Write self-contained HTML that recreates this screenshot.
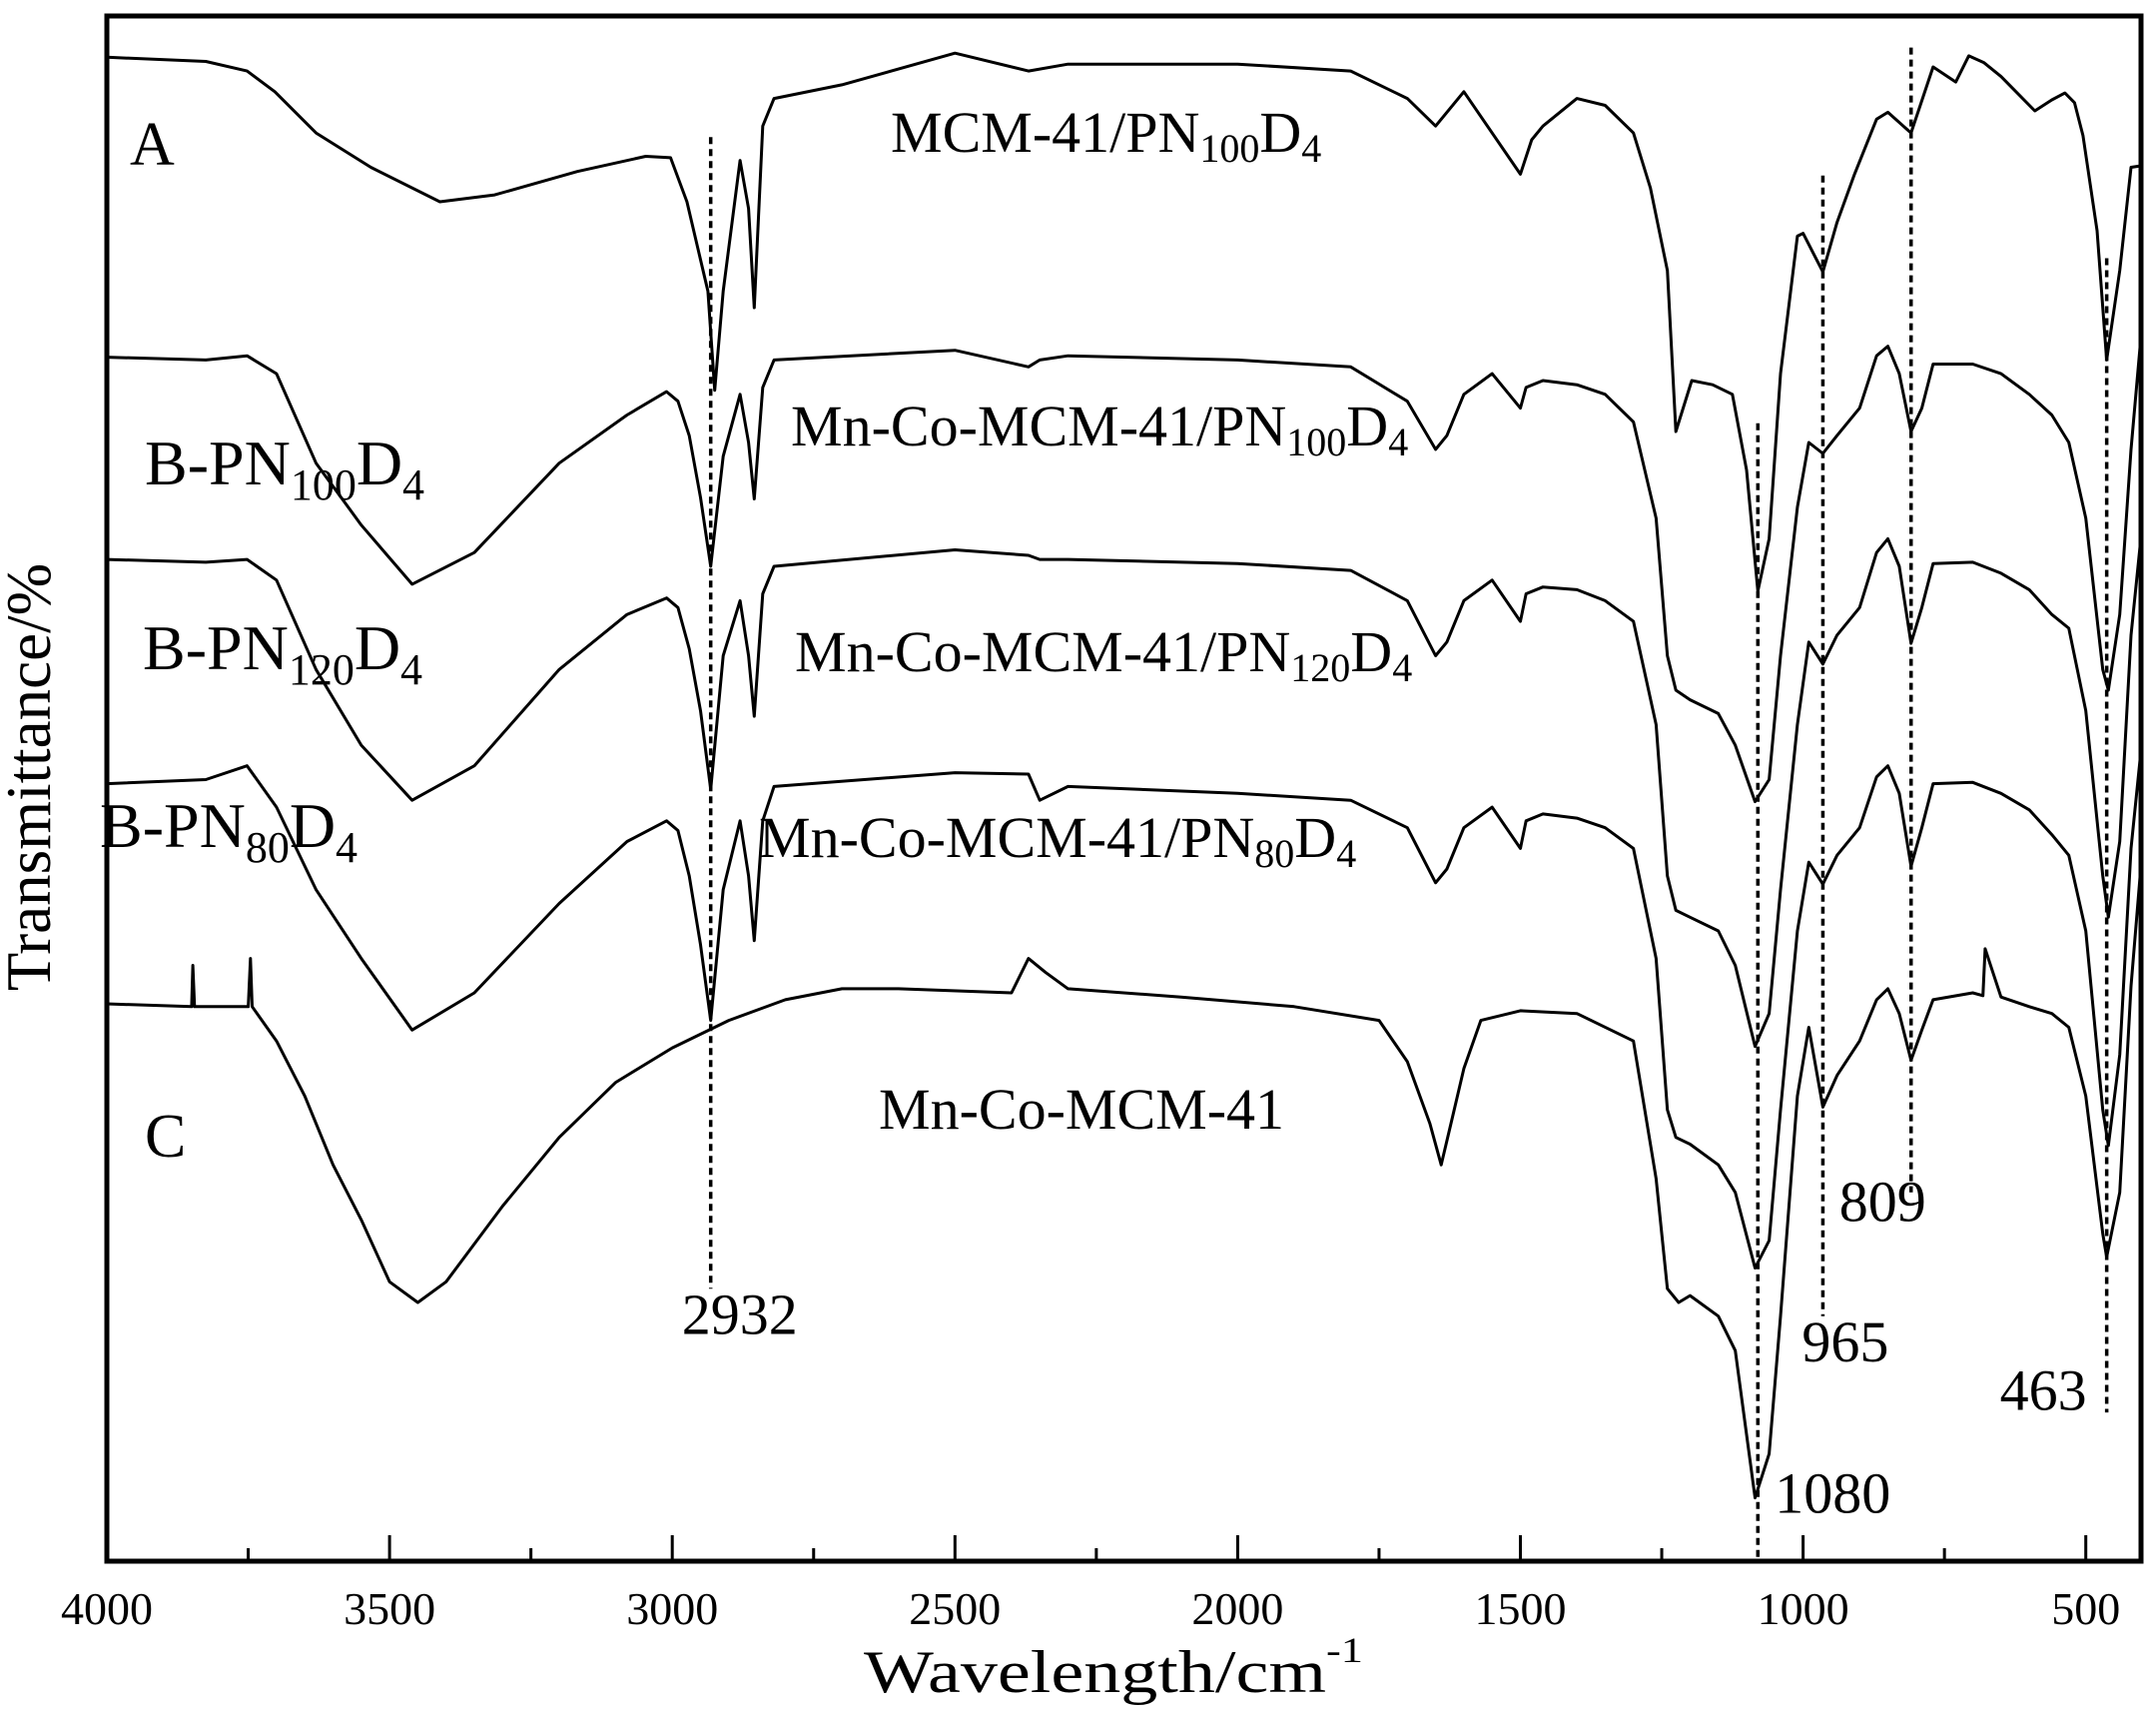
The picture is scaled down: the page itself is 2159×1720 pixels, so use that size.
<!DOCTYPE html>
<html><head><meta charset="utf-8"><style>
html,body{margin:0;padding:0;background:#fff}
svg{display:block}
text{font-family:"Liberation Serif",serif;fill:#000}
</style></head>
<body>
<svg id="chart" width="2159" height="1720" viewBox="0 0 2159 1720" xmlns="http://www.w3.org/2000/svg">
<g id="plot"></g>
</svg>
<script>
// wavenumbers (cm-1) and offsets below top of plot (arbitrary units, 0 = top, 1120 = bottom)
const waveA  = [4000,3825,3752,3703,3630,3533,3411,3314,3168,3047,3003,2974,2954,2937,2925,2910,2880,2865,2855,2840,2820,2700,2500,2370,2300,2000,1800,1700,1650,1600,1500,1480,1460,1400,1350,1300,1270,1240,1225,1197,1160,1125,1100,1080,1060,1040,1010,1000,965,940,909,870,850,809,770,730,707,680,650,590,560,537,520,505,480,463,440,420,404];
const dropA  = [30,33,40,55,85,110,135,130,113,102,103,135,170,200,272,200,105,140,212,80,60,50,27,40,35,35,40,60,80,55,115,90,80,60,65,85,125,185,302,265,268,275,330,418,380,260,160,158,186,150,115,75,70,85,37,48,29,34,44,69,61,56,63,87,156,250,185,110,109];
const waveB100 = [4000,3825,3752,3700,3630,3550,3460,3350,3200,3080,3010,2990,2970,2950,2932,2910,2880,2865,2855,2840,2820,2500,2370,2350,2300,2000,1800,1700,1650,1630,1600,1550,1500,1490,1460,1400,1350,1300,1260,1240,1225,1200,1150,1120,1085,1060,1040,1010,990,965,940,900,870,850,830,809,790,770,700,650,600,560,530,500,470,460,440,420,404];
const dropB100 = [248,250,247,260,325,370,413,390,325,290,273,280,305,350,400,320,275,310,351,270,250,243,255,250,247,250,255,280,315,305,275,260,285,270,265,268,275,295,365,465,490,497,507,530,571,555,465,357,310,318,305,285,247,240,260,302,285,253,253,260,275,290,310,365,475,490,435,315,240];
const waveB120 = waveB100;
const dropB120 = [395,397,395,410,475,530,570,545,475,435,423,430,460,505,562,465,425,465,509,420,400,388,392,395,395,398,403,425,465,455,425,410,440,420,415,417,425,440,515,625,650,655,665,690,749,725,635,515,455,471,450,430,390,380,400,456,430,398,397,405,417,435,445,505,625,655,600,450,385];
const waveB80 = waveB100;
const dropB80 = [558,555,545,575,635,685,737,710,645,600,585,592,625,675,730,635,585,625,672,585,560,550,551,570,560,565,570,590,630,620,590,575,605,585,580,583,590,605,685,795,815,820,835,855,910,890,795,665,615,631,610,590,553,545,565,618,590,558,557,565,577,595,610,665,795,821,755,605,540];
const waveC = [4000,3850,3848,3845,3750,3746,3743,3700,3650,3600,3550,3500,3450,3400,3300,3200,3100,3000,2900,2800,2700,2600,2400,2370,2340,2300,2100,1900,1750,1700,1660,1640,1620,1600,1570,1500,1400,1300,1260,1240,1220,1200,1150,1120,1085,1060,1040,1010,990,965,940,900,870,850,830,809,790,770,700,682,678,650,600,560,530,500,470,463,440,420,404];
const dropC = [718,720,690,720,720,685,720,745,785,835,875,920,935,920,865,815,775,750,730,715,707,707,710,685,695,707,713,720,730,760,805,835,800,765,730,723,725,745,845,925,935,930,945,970,1077,1045,945,785,735,793,770,745,715,707,725,759,737,715,710,712,678,713,720,725,735,785,885,902,855,705,625];
const xTicks = [4000,3500,3000,2500,2000,1500,1000,500];
const xMinorTicks = [3750,3250,2750,2250,1750,1250,750];
const peakValues = [2932,1080,965,809,463];

const L=107, R=2144, T=16, B=1563;
const vMax=4000, pxPer500=283.1;
function xs(v){ return L + (vMax - v)/500*pxPer500; }
function ys(d){ return T + d*1.3775; }
const NS='http://www.w3.org/2000/svg';
const g=document.getElementById('plot');
function mk(tag, attrs){ const e=document.createElementNS(NS,tag); for(const k in attrs) e.setAttribute(k,attrs[k]); g.appendChild(e); return e; }

function curve(w, d, name){
  let p='';
  for(let i=0;i<w.length;i++){ p += (i?'L':'M') + xs(w[i]).toFixed(1) + ',' + ys(d[i]).toFixed(1); }
  const e=mk('path',{d:p,fill:'none',stroke:'#000','stroke-width':3,'stroke-linejoin':'round'});
  
  
}
curve(waveA, dropA, 'spectrum-a');
curve(waveB100, dropB100, 'spectrum-b-pn100d4');
curve(waveB120, dropB120, 'spectrum-b-pn120d4');
curve(waveB80, dropB80, 'spectrum-b-pn80d4');
curve(waveC, dropC, 'spectrum-c');

// peak dashed lines [top drop, bottom drop]
const peakTop = [88, 296, 116, 23, 176];
const peakBot = [925, 1120, 945, 855, 1015];
const peakLabelDx = [-29, 17, -21, -72, -107];
const peakLabelDrop = [958, 1088, 978, 876, 1013];
peakValues.forEach((v,i)=>{
  const x = xs(v);
  const ln = mk('line',{x1:x,x2:x,y1:ys(peakTop[i]),y2:ys(peakBot[i]),stroke:'#000','stroke-width':3.5,'stroke-dasharray':'7,5'});
  
  
  const t = mk('text',{x:x+peakLabelDx[i],y:ys(peakLabelDrop[i]),'font-size':58});
  t.textContent = v;
  
  
});

// axes box
const box = mk('rect',{x:L,y:T,width:R-L,height:B-T,fill:'none',stroke:'#000','stroke-width':5});


xTicks.forEach(v=>{
  const tk = mk('line',{x1:xs(v),x2:xs(v),y1:B,y2:B-26,stroke:'#000','stroke-width':3});
  
  
  const t = mk('text',{x:xs(v),y:1626,'font-size':46,'text-anchor':'middle'});
  t.textContent = v;
  
  
});
xMinorTicks.forEach(v=>{
  const tk = mk('line',{x1:xs(v),x2:xs(v),y1:B,y2:B-13,stroke:'#000','stroke-width':3});
  
  
});
</script>
<svg style="position:absolute;left:0;top:0" width="2159" height="1720">
<text x="865" y="1694" font-size="60" textLength="500" lengthAdjust="spacingAndGlyphs">Wavelength/cm<tspan font-size="36" dy="-30">-1</tspan></text>
<text transform="translate(50,778) rotate(-90)" font-size="63" text-anchor="middle">Transmittance/%</text>
<text x="130" y="165" font-size="62">A</text>
<text x="145" y="485" font-size="64">B-PN<tspan font-size="44" dy="15">100</tspan><tspan dy="-15">D</tspan><tspan font-size="44" dy="15">4</tspan></text>
<text x="143" y="670" font-size="64">B-PN<tspan font-size="44" dy="15">120</tspan><tspan dy="-15">D</tspan><tspan font-size="44" dy="15">4</tspan></text>
<text x="100" y="848" font-size="64">B-PN<tspan font-size="44" dy="15">80</tspan><tspan dy="-15">D</tspan><tspan font-size="44" dy="15">4</tspan></text>
<text x="145" y="1158" font-size="62">C</text>
<text x="892" y="152" font-size="58">MCM-41/PN<tspan font-size="40" dy="10">100</tspan><tspan dy="-10">D</tspan><tspan font-size="40" dy="10">4</tspan></text>
<text x="792" y="446" font-size="58">Mn-Co-MCM-41/PN<tspan font-size="40" dy="10">100</tspan><tspan dy="-10">D</tspan><tspan font-size="40" dy="10">4</tspan></text>
<text x="796" y="672" font-size="58">Mn-Co-MCM-41/PN<tspan font-size="40" dy="10">120</tspan><tspan dy="-10">D</tspan><tspan font-size="40" dy="10">4</tspan></text>
<text x="760" y="858" font-size="58">Mn-Co-MCM-41/PN<tspan font-size="40" dy="10">80</tspan><tspan dy="-10">D</tspan><tspan font-size="40" dy="10">4</tspan></text>
<text x="880" y="1130" font-size="58">Mn-Co-MCM-41</text>
</svg>
</body></html>
